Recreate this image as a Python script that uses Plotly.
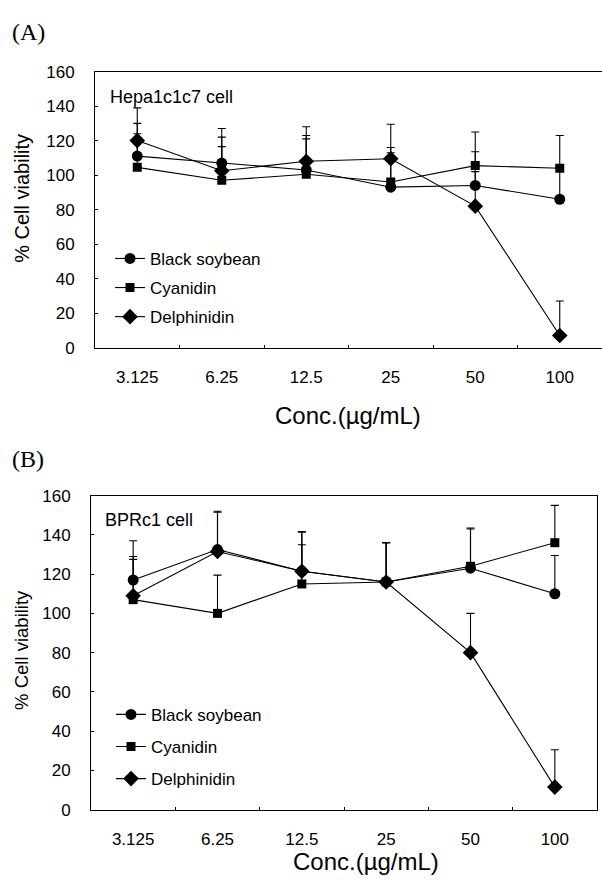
import plotly.graph_objects as go

W, H = 602, 883

conc = ["3.125", "6.25", "12.5", "25", "50", "100"]
series_names = ["Black soybean", "Cyanidin", "Delphinidin"]

# Panel A: Hepa1c1c7 cell
bs_a = [111, 107, 103, 93, 94, 86]
bs_a_err = [19, 20, 20, 20, 19.5, 19]
cy_a = [104.5, 97, 100.5, 96, 105.5, 104]
cy_a_err = [19.5, 19.5, 20.5, 20, 19.5, 19]
de_a = [120, 102.5, 108, 109.5, 82, 7]
de_a_err = [19, 19.5, 20, 20, 20, 20]

# Panel B: BPRc1 cell
bs_b = [117, 132.5, 121.5, 116, 123, 110]
bs_b_err = [20, 19.5, 20, 20, 20, 19.5]
cy_b = [107, 100, 115, 116, 124, 136]
cy_b_err = [20.5, 19.5, 20, 20, 19.5, 19]
de_b = [109, 131.5, 121.5, 116, 80, 11.5]
de_b_err = [20, 20, 20, 20, 20, 19]

y_ticks = [0, 20, 40, 60, 80, 100, 120, 140, 160]

FONT = "Liberation Sans, Arial, sans-serif"
SERIF = "Liberation Serif, Times New Roman, serif"


def px(x):
    return x / W


def py(y):
    return 1 - y / H


symbols = {"Black soybean": ("circle", 11), "Cyanidin": ("square", 9), "Delphinidin": ("diamond", 12)}

fig = go.Figure()


def add_series(vals, errs, name, xa, ya, legend):
    sym, size = symbols[name]
    fig.add_trace(go.Scatter(
        x=conc, y=vals, name=name, mode="lines+markers",
        xaxis=xa, yaxis=ya, legend=legend,
        line=dict(color="black", width=1.1),
        marker=dict(symbol=sym, size=size, color="black"),
        error_y=dict(type="data", symmetric=False, array=errs,
                     arrayminus=[0] * len(errs), color="black",
                     thickness=1.1, width=4),
    ))


for vals, errs, name in [(bs_a, bs_a_err, "Black soybean"), (cy_a, cy_a_err, "Cyanidin"), (de_a, de_a_err, "Delphinidin")]:
    add_series(vals, errs, name, "x", "y", "legend")
for vals, errs, name in [(bs_b, bs_b_err, "Black soybean"), (cy_b, cy_b_err, "Cyanidin"), (de_b, de_b_err, "Delphinidin")]:
    add_series(vals, errs, name, "x2", "y2", "legend2")

xcommon = dict(type="category", range=[-0.5, 5.5], showline=True, linecolor="black",
               linewidth=1, ticks="inside", ticklen=3, tickcolor="black",
               tickson="boundaries", showgrid=False, zeroline=False,
               tickfont=dict(family=FONT, size=17, color="black"), ticklabelstandoff=14)
ycommon = dict(range=[0, 160], tickvals=y_ticks, showline=True, linecolor="black",
               linewidth=1, ticks="inside", ticklen=3, tickcolor="black",
               showgrid=False, zeroline=False,
               tickfont=dict(family=FONT, size=17, color="black"), ticklabelstandoff=16)

fig.update_layout(
    width=W, height=H, margin=dict(l=0, r=0, t=0, b=0),
    paper_bgcolor="white", plot_bgcolor="white", showlegend=True,
    xaxis=dict(domain=[px(95), 1.0], anchor="y", mirror=True, **xcommon),
    yaxis=dict(domain=[py(346), py(64)], anchor="x", mirror=False, **ycommon),
    xaxis2=dict(domain=[px(91), px(597)], anchor="y2", mirror=True, **xcommon),
    yaxis2=dict(domain=[py(818.3), py(497.3)], anchor="x2", mirror=True, **ycommon),
    legend=dict(x=px(110), y=py(237), xanchor="left", yanchor="top",
                bgcolor="rgba(0,0,0,0)", font=dict(family=FONT, size=17, color="black"),
                tracegroupgap=4, itemwidth=30),
    legend2=dict(x=px(111), y=py(703), xanchor="left", yanchor="top",
                 bgcolor="rgba(0,0,0,0)", font=dict(family=FONT, size=17, color="black"),
                 tracegroupgap=7, itemwidth=30),
)

for i, tr in enumerate(fig.data):
    tr.legendgroup = f"g{i}"

ann = [
    dict(text="(A)", x=px(10), y=py(24), xanchor="left", yanchor="middle",
         font=dict(family=SERIF, size=24, color="black")),
    dict(text="(B)", x=px(10), y=py(460), xanchor="left", yanchor="middle",
         font=dict(family=SERIF, size=24, color="black")),
    dict(text="Hepa1c1c7 cell", x=px(108), y=py(90), xanchor="left", yanchor="middle",
         font=dict(family=FONT, size=18, color="black")),
    dict(text="BPRc1 cell", x=px(103), y=py(522), xanchor="left", yanchor="middle",
         font=dict(family=FONT, size=18, color="black")),
    dict(text="% Cell viability", x=px(22), y=py(194), textangle=-90,
         xanchor="center", yanchor="middle", font=dict(family=FONT, size=20, color="black")),
    dict(text="% Cell viability", x=px(22), y=py(655), textangle=-90,
         xanchor="center", yanchor="middle", font=dict(family=FONT, size=18.5, color="black")),
    dict(text="Conc.(µg/mL)", x=px(348), y=py(415), xanchor="center", yanchor="middle",
         font=dict(family=FONT, size=24, color="black")),
    dict(text="Conc.(µg/mL)", x=px(366), y=py(871), xanchor="center", yanchor="middle",
         font=dict(family=FONT, size=24, color="black")),
]
for a in ann:
    a.update(xref="paper", yref="paper", showarrow=False)
fig.update_layout(annotations=ann)

fig.write_html(
    "out.html",
    config={"displayModeBar": False},
    post_script="document.body.style.margin='0';document.body.style.overflow='hidden';",
)
